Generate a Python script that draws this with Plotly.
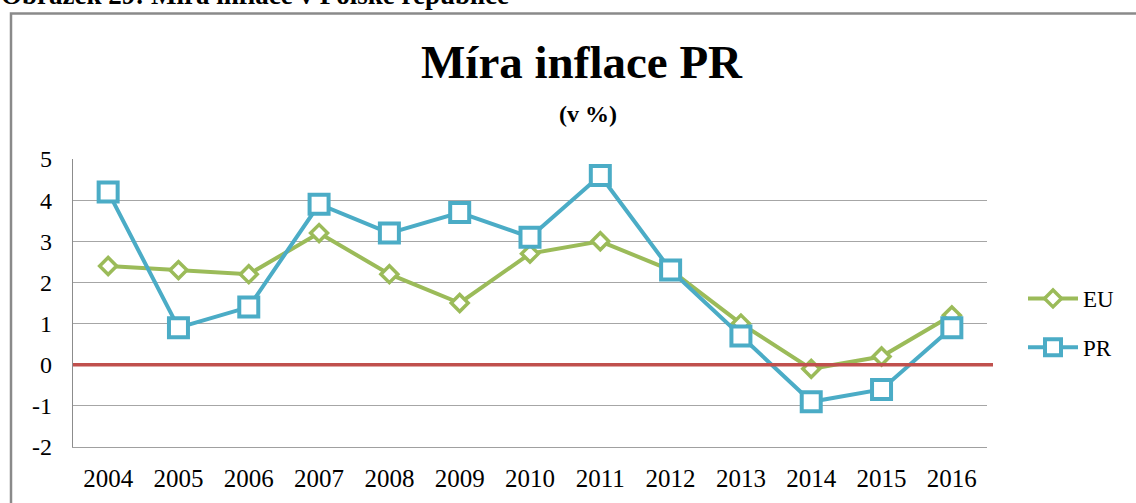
import plotly.graph_objects as go

years = ["2004", "2005", "2006", "2007", "2008", "2009", "2010",
         "2011", "2012", "2013", "2014", "2015", "2016"]
eu = [2.4, 2.3, 2.2, 3.2, 2.2, 1.5, 2.7, 3.0, 2.3, 1.0, -0.1, 0.2, 1.2]
pr = [4.2, 0.9, 1.4, 3.9, 3.2, 3.7, 3.1, 4.6, 2.3, 0.7, -0.9, -0.6, 0.9]
ytick_vals = [-2, -1, 0, 1, 2, 3, 4, 5]
ytick_text = ["-2", "-1", "0", "1", "2", "3", "4", "5"]

caption = "Obrázek 29: Míra inflace v Polské republice"
title = "Míra inflace PR"
subtitle = "(v %)"

FONT = "Liberation Serif, Times New Roman, serif"
W, H = 1136, 503
L, T = 73, 159
R = W - 987
B = H - 447
pw, ph = W - L - R, H - T - B


def px(x):
    return (x - L) / pw


def py(y):
    return (H - B - y) / ph


fig = go.Figure()
fig.add_trace(go.Scatter(
    x=years, y=eu, name="EU", mode="lines+markers", legendgroup="eu",
    line=dict(color="#9BBB59", width=4),
    marker=dict(symbol="diamond", size=13, color="white",
                line=dict(color="#9BBB59", width=3.5)),
))
fig.add_trace(go.Scatter(
    x=years, y=pr, name="PR", mode="lines+markers", legendgroup="pr",
    line=dict(color="#4BACC6", width=4),
    marker=dict(symbol="square", size=19, color="white",
                line=dict(color="#4BACC6", width=4)),
))

# zero reference line
fig.add_shape(type="line", xref="paper", yref="y", x0=0, x1=px(993), y0=0, y1=0,
              line=dict(color="#C0504D", width=3.5), layer="above")
# chart area border
fig.add_shape(type="rect", xref="paper", yref="paper",
              x0=px(11), x1=px(1150), y0=py(13.5), y1=py(530),
              line=dict(color="#8a8a8a", width=2.5), layer="below")

fig.add_annotation(text=caption, xref="paper", yref="paper", x=px(-1), y=py(12),
                   xanchor="left", yanchor="bottom", showarrow=False,
                   font=dict(family=FONT, size=27, color="black", weight="bold"))
fig.add_annotation(text=title, xref="paper", yref="paper", x=px(582), y=py(90),
                   xanchor="center", yanchor="bottom", showarrow=False,
                   font=dict(family=FONT, size=47, color="black", weight="bold"))
fig.add_annotation(text=subtitle, xref="paper", yref="paper", x=px(588), y=py(129),
                   xanchor="center", yanchor="bottom", showarrow=False,
                   font=dict(family=FONT, size=24, color="black", weight="bold"))

fig.update_layout(
    width=W, height=H,
    margin=dict(l=L, r=R, t=T, b=B, autoexpand=False),
    paper_bgcolor="white", plot_bgcolor="white",
    font=dict(family=FONT, size=24, color="black"),
    showlegend=True,
    legend=dict(x=px(1023), y=py(277), xanchor="left", yanchor="top",
                traceorder="grouped", tracegroupgap=16, itemwidth=50,
                font=dict(family=FONT, size=23, color="black"),
                bgcolor="rgba(0,0,0,0)"),
    xaxis=dict(type="category", range=[-0.5, 12.5], showgrid=False,
               showline=True, linecolor="#a0a0a0", linewidth=1.3,
               ticks="", ticklabelstandoff=9,
               tickfont=dict(family=FONT, size=25, color="black")),
    yaxis=dict(range=[-2, 5], tickvals=ytick_vals, ticktext=ytick_text,
               showgrid=True, gridcolor="#a6a6a6", gridwidth=1.3, zeroline=False,
               showline=True, linecolor="#8c8c8c", linewidth=1.3,
               ticks="", ticklabelstandoff=15,
               tickfont=dict(family=FONT, size=24, color="black")),
)

fig.write_html("out.html",
               config={"displayModeBar": False},
               post_script="document.body.style.margin='0';"
                           "document.body.style.overflow='hidden';")
